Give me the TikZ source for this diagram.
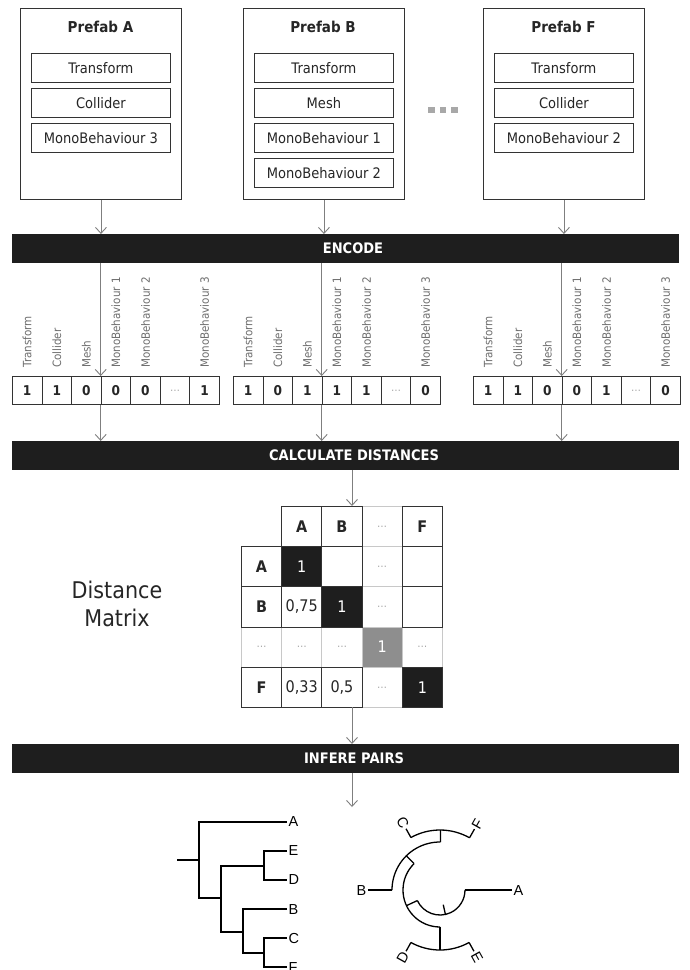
\documentclass[tikz,border=0pt]{standalone}
\usepackage{fontspec}
\setmainfont{DejaVu Sans}[FakeStretch=0.9]
\newfontfamily\arialf{Liberation Sans}
\usetikzlibrary{arrows.meta}
\definecolor{barc}{HTML}{1E1E1E}
\definecolor{boxc}{HTML}{333333}
\definecolor{arrc}{HTML}{7F7F7F}
\definecolor{lblc}{HTML}{6E6E6E}
\definecolor{dotc}{HTML}{A8A8A8}
\definecolor{lightc}{HTML}{C8C8C8}
\definecolor{greyc}{HTML}{8E8E8E}
\newcommand\bitval[1]{\if d#1{\mdseries\fontsize{11}{13}\selectfont\color{dotc}…}\else#1\fi}
\newcommand\mdots{{\fontsize{11}{13}\selectfont\color{dotc}…}}
\begin{document}
\begin{tikzpicture}[x=1pt,y=-1pt,
 prefab/.style={draw=boxc, line width=0.9pt, minimum width=161pt, minimum height=191pt, inner sep=0, anchor=north west},
 ptitle/.style={font=\bfseries\fontsize{15}{18}\selectfont, text=black!85, inner sep=0},
 comp/.style={draw=boxc, line width=0.8pt, minimum width=139pt, minimum height=29pt, inner sep=0, anchor=north west, font=\fontsize{14.5}{17}\selectfont, text=black!85},
 bar/.style={fill=barc, minimum width=667pt, minimum height=29pt, inner sep=0, anchor=north west},
 bartext/.style={text=white, font=\bfseries\fontsize{14.5}{17}\selectfont, inner sep=0},
 arr/.style={draw=arrc, line width=0.9pt, -{Straight Barb[length=6pt,width=11pt]}},
 bit/.style={draw=boxc, line width=0.8pt, minimum width=29.57pt, minimum height=28pt, inner sep=0, anchor=north west, font=\bfseries\fontsize{13.5}{16}\selectfont, text=black!85},
 bitlbl/.style={rotate=90, anchor=west, inner sep=0, text=lblc, font=\fontsize{11.5}{13}\selectfont},
 mcell/.style={minimum width=40.2pt, minimum height=40.2pt, inner sep=0, anchor=north west, line width=0.9pt, font=\fontsize{16}{19}\selectfont, text=black!85},
 mdark/.style={mcell, draw=boxc},
 mlight/.style={mcell, draw=lightc},
 mhead/.style={font=\bfseries\fontsize{16}{19}\selectfont},
 tree/.style={line width=2pt, black},
 rtree/.style={line width=1.3pt, black},
 tlbl/.style={font=\arialf\fontsize{14.5}{17}\selectfont, inner sep=1.5pt}
]
\useasboundingbox (0,0) rectangle (690,970);
\clip (0,0) rectangle (690,970);
\fill[white] (0,0) rectangle (690,970);

% ---------- prefabs ----------
\node[prefab] (pa) at (20,8) {};
\node[ptitle] (pat) at (100.5,27) {Prefab A};
\node[comp] (pa1) at (31,53) {Transform};
\node[comp] (pa2) at (31,88) {Collider};
\node[comp] (pa3) at (31,123) {MonoBehaviour 3};

\node[prefab] (pb) at (243,8) {};
\node[ptitle] (pbt) at (323,27) {Prefab B};
\node[comp] (pb1) at (254,53) {Transform};
\node[comp] (pb2) at (254,88) {Mesh};
\node[comp] (pb3) at (254,123) {MonoBehaviour 1};
\node[comp] (pb4) at (254,158) {MonoBehaviour 2};

\node[prefab] (pf) at (483,8) {};
\node[ptitle] (pft) at (563.5,27) {Prefab F};
\node[comp] (pf1) at (494,53) {Transform};
\node[comp] (pf2) at (494,88) {Collider};
\node[comp] (pf3) at (494,123) {MonoBehaviour 2};

\foreach \dx in {428,439.5,451}
  \fill[dotc] (\dx,106.5) rectangle ++(6.5,6);

% ---------- bars ----------
\node[bar] (enc) at (12,234) {};
\node[bartext] (enct) at (353,248.5) {ENCODE};
\node[bar] (calc) at (12,441) {};
\node[bartext] (calct) at (354,455.5) {CALCULATE DISTANCES};
\node[bar] (inf) at (12,744) {};
\node[bartext] (inft) at (354,758.5) {INFERE PAIRS};

% ---------- bit vectors ----------
\foreach \v/\x/\vals in {a/12/{1,1,0,0,0,d,1}, b/233/{1,0,1,1,1,d,0}, f/473/{1,1,0,0,1,d,0}} {
  \foreach \bv [count=\i from 0] in \vals {
    \node[bit] (v\v\i) at ({\x+29.57*\i},376) {\bitval{\bv}};
  }
  \foreach \i/\lab in {0/Transform,1/Collider,2/Mesh,3/MonoBehaviour 1,4/MonoBehaviour 2,6/MonoBehaviour 3}
    \node[bitlbl] (l\v\i) at ([yshift=8pt]v\v\i.north) {\lab};
}

% ---------- arrows top ----------
\draw[arr] (pa.south) -- (enc.north -| pa.south);
\draw[arr] (pb.south) -- (enc.north -| pb.south);
\draw[arr] (pf.south) -- (enc.north -| pf.south);
\foreach \v in {a,b,f} {
  \draw[arr] (enc.south -| v\v3.north west) -- (v\v3.north west);
  \draw[arr] (v\v3.south west) -- (calc.north -| v\v3.south west);
}

% ---------- matrix ----------
% light cells first
\node[mlight] (m03) at ({241+40.2*3},{506}) {\mdots};
\node[mlight] (m13) at ({241+40.2*3},{506+40.2}) {\mdots};
\node[mlight] (m23) at ({241+40.2*3},{506+40.2*2}) {\mdots};
\node[mlight] (m43) at ({241+40.2*3},{506+40.2*4}) {\mdots};
\node[mlight] (m30) at ({241},{506+40.2*3}) {\mdots};
\node[mlight] (m31) at ({241+40.2},{506+40.2*3}) {\mdots};
\node[mlight] (m32) at ({241+40.2*2},{506+40.2*3}) {\mdots};
\node[mlight, fill=greyc, text=white] (m33) at ({241+40.2*3},{506+40.2*3}) {1};
\node[mlight] (m34) at ({241+40.2*4},{506+40.2*3}) {\mdots};
% dark cells
\node[mdark, mhead] (m01) at ({241+40.2},{506}) {A};
\node[mdark, mhead] (m02) at ({241+40.2*2},{506}) {B};
\node[mdark, mhead] (m04) at ({241+40.2*4},{506}) {F};
\node[mdark, mhead] (m10) at ({241},{506+40.2}) {A};
\node[mdark, fill=barc, text=white] (m11) at ({241+40.2},{506+40.2}) {1};
\node[mdark] (m12) at ({241+40.2*2},{506+40.2}) {};
\node[mdark] (m14) at ({241+40.2*4},{506+40.2}) {};
\node[mdark, mhead] (m20) at ({241},{506+40.2*2}) {B};
\node[mdark] (m21) at ({241+40.2},{506+40.2*2}) {0,75};
\node[mdark, fill=barc, text=white] (m22) at ({241+40.2*2},{506+40.2*2}) {1};
\node[mdark] (m24) at ({241+40.2*4},{506+40.2*2}) {};
\node[mdark, mhead] (m40) at ({241},{506+40.2*4}) {F};
\node[mdark] (m41) at ({241+40.2},{506+40.2*4}) {0,33};
\node[mdark] (m42) at ({241+40.2*2},{506+40.2*4}) {0,5};
\node[mdark, fill=barc, text=white] (m44) at ({241+40.2*4},{506+40.2*4}) {1};

\node[align=center, font=\fontsize{23}{28}\selectfont, text=black!85] (dm) at (117,604) {Distance\\Matrix};

\coordinate (mtop) at (352,506);
\coordinate (mbot) at (352,707);
\coordinate (ttop) at (352,807);
\draw[arr] (calc.south -| mtop) -- (mtop);
\draw[arr] (mbot) -- (inf.north -| mbot);
\draw[arr] (inf.south -| ttop) -- (ttop);

% ---------- rectangular tree ----------
\draw[tree] (177,860) -- (199,860);
\draw[tree] (287,822) -- (199,822) -- (199,898) -- (221,898);
\draw[tree] (264,866) -- (221,866) -- (221,932) -- (243,932);
\draw[tree] (287,851) -- (264,851) -- (264,880) -- (287,880);
\draw[tree] (287,909) -- (243,909) -- (243,953) -- (264,953);
\draw[tree] (287,938) -- (264,938) -- (264,967) -- (287,967);
\node[tlbl, anchor=west] (ra) at (287,822) {A};
\node[tlbl, anchor=west] (re) at (287,851) {E};
\node[tlbl, anchor=west] (rd) at (287,880) {D};
\node[tlbl, anchor=west] (rb) at (287,909) {B};
\node[tlbl, anchor=west] (rc) at (287,938) {C};
\node[tlbl, anchor=west] (rf) at (287,967) {F};

% ---------- radial tree ----------
\begin{scope}[shift={(440,890)}, x=1pt, y=1pt]
  \draw[rtree] (282.5:15) -- (282.5:25);
  \draw[rtree] (205:25) arc[start angle=205, end angle=360, radius=25];
  \draw[rtree] (0:25) -- (0:72);
  \draw[rtree] (205:25) -- (205:37);
  \draw[rtree] (134.5:37) arc[start angle=134.5, end angle=270, radius=37];
  \draw[rtree] (270:37) -- (270:60);
  \draw[rtree] (241:60) arc[start angle=241, end angle=299, radius=60];
  \draw[rtree] (241:60) -- (241:70);
  \draw[rtree] (299:60) -- (299:70);
  \draw[rtree] (134.5:37) -- (134.5:48);
  \draw[rtree] (89.5:48) arc[start angle=89.5, end angle=180, radius=48];
  \draw[rtree] (180:48) -- (180:72);
  \draw[rtree] (89.5:48) -- (89.5:60);
  \draw[rtree] (60.5:60) arc[start angle=60.5, end angle=119, radius=60];
  \draw[rtree] (119:60) -- (119:70);
  \draw[rtree] (60.5:60) -- (60.5:70);
  \node[tlbl, anchor=west] (ca) at (0:72) {A};
  \node[tlbl, anchor=east] (cb) at (180:72) {B};
  \node[tlbl, anchor=east, rotate=-61] (cc) at (119:70) {C};
  \node[tlbl, anchor=west, rotate=60.5] (cf) at (60.5:70) {F};
  \node[tlbl, anchor=east, rotate=61] (cd) at (241:70) {D};
  \node[tlbl, anchor=west, rotate=-61] (ce) at (299:70) {E};
\end{scope}
\end{tikzpicture}
\end{document}
